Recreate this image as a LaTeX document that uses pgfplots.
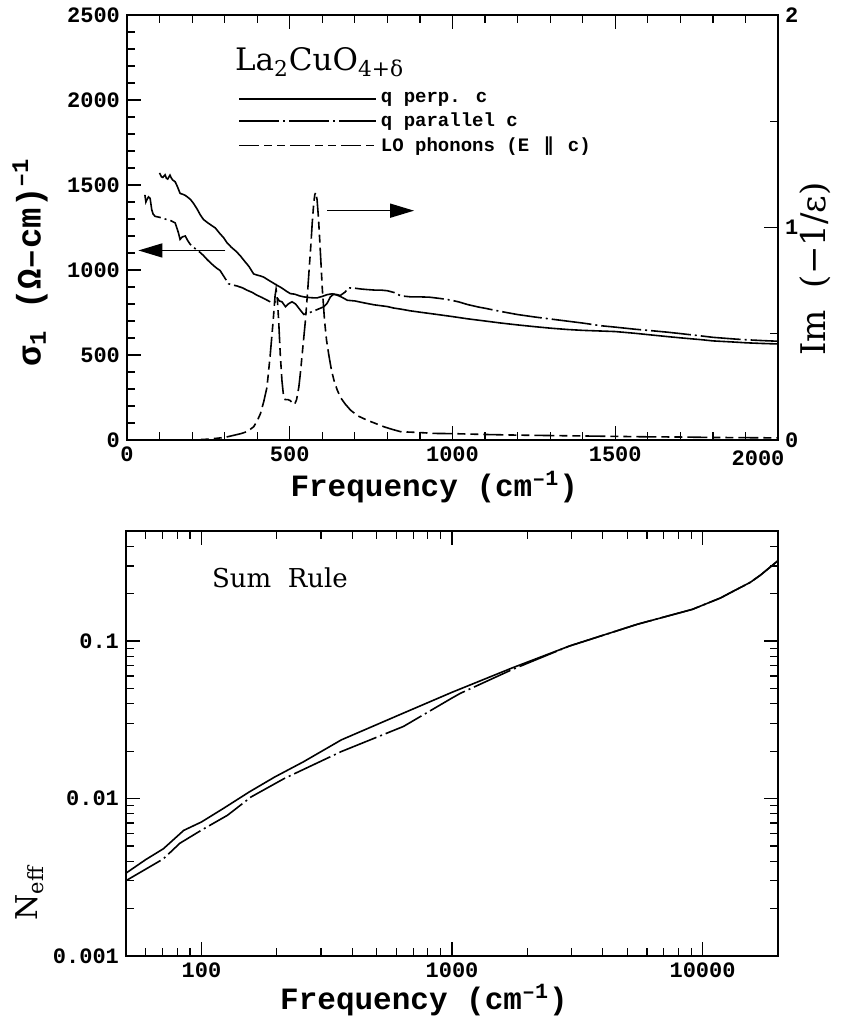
\documentclass[border=0pt]{standalone}
\usepackage{pgfplots}
\pgfplotsset{compat=1.18}
\usepackage{pgfplotstable}
\usepackage{fontspec}
\setmainfont{DejaVu Serif}
\newfontfamily\monof{Liberation Mono}
\newfontfamily\dvs{DejaVu Sans}
\usetikzlibrary{arrows.meta}

\pgfplotstableread{
f s
100 1571
106 1548
110 1545
117 1560
121 1540
125 1535
132 1558
136 1542
140 1530
148 1519
155 1490
163 1451
172 1445
178 1440
184 1432
195 1415
204 1393
215 1360
225 1325
235 1297
250 1275
260 1262
271 1248
285 1215
297 1190
307 1161
320 1135
335 1110
348 1084
360 1055
375 1020
389 977
400 970
410 965
420 958
435 940
448 925
461 910
475 895
490 875
502 861
515 858
530 848
543 842
560 838
575 836
584 836
600 845
615 855
630 860
646 852
660 840
677 822
700 818
720 810
738 803
760 795
780 790
800 785
820 776
841 770
870 760
900 752
943 741
1000 726
1046 713
1100 700
1149 688
1200 677
1251 667
1300 658
1354 650
1400 645
1457 641
1500 638
1559 628
1600 620
1662 608
1700 601
1765 590
1800 583
1867 576
1900 572
1950 568
2000 565
}\perp

\pgfplotstableread{
f s
55 1442
58 1400
61 1413
66 1430
71 1422
76 1355
80 1330
86 1316
100 1310
110 1305
122 1297
135 1290
148 1277
158 1219
163 1180
170 1195
179 1200
186 1175
194 1152
210 1125
225 1103
235 1085
245 1064
255 1045
266 1026
276 1010
286 997
300 955
312 919
325 912
338 906
355 895
369 881
385 868
399 852
415 838
430 823
445 808
455 812
462 835
468 818
476 813
487 784
495 800
507 813
518 800
530 770
543 739
555 745
574 759
590 772
605 784
615 805
625 842
635 858
646 855
655 850
670 870
680 895
700 893
720 888
738 885
760 882
780 882
800 878
820 868
841 848
872 842
900 842
930 840
964 832
995 823
1020 812
1046 797
1080 782
1100 775
1128 764
1160 752
1200 738
1251 724
1300 712
1354 699
1400 688
1457 672
1500 664
1559 652
1600 645
1662 634
1700 626
1765 612
1800 604
1867 594
1900 590
1950 585
2000 581
}\para

\pgfplotstableread{
f im
150 0.0
200 0.0
250 0.004
300 0.012
350 0.03
370 0.04
389 0.062
400 0.09
410 0.124
420 0.18
430 0.248
440 0.40
449 0.56
455 0.68
458 0.71
462 0.66
466 0.56
471 0.40
476 0.28
480 0.22
486 0.19
495 0.19
502 0.185
510 0.17
515 0.168
521 0.19
528 0.25
533 0.32
538 0.40
548 0.56
555 0.70
559 0.79
565 0.92
569 1.02
574 1.12
577 1.155
580 1.165
584 1.13
588 1.05
592 0.944
596 0.83
600 0.712
607 0.56
613 0.47
620 0.40
628 0.33
636 0.28
646 0.235
656 0.20
670 0.17
687 0.14
710 0.113
738 0.093
760 0.08
790 0.062
815 0.05
841 0.039
900 0.035
944 0.031
1000 0.030
1100 0.026
1200 0.023
1300 0.021
1400 0.019
1500 0.017
1600 0.015
1700 0.014
1800 0.012
1900 0.011
2000 0.010
}\lo

\pgfplotstableread{
f n
50 0.00336
60 0.0041
70.5 0.0048
85 0.00628
100 0.0071
122 0.00863
155 0.0110
196 0.0137
255 0.0171
362 0.0236
640 0.0349
1000 0.0473
1740 0.0676
2940 0.093
5500 0.128
9100 0.159
11800 0.188
13000 0.204
15500 0.236
17000 0.262
20000 0.324
}\sumperp

\pgfplotstableread{
f n
50 0.00301
70.5 0.00414
82 0.0052
100 0.0063
127 0.00783
158 0.01025
214 0.0134
362 0.0199
640 0.0287
1000 0.0435
1080 0.0466
1740 0.066
2940 0.093
5500 0.128
9100 0.159
11800 0.188
13000 0.204
15500 0.236
17000 0.262
20000 0.324
}\sumpara

\begin{document}
\begin{tikzpicture}
\path[use as bounding box] (0,0) rectangle (421.5pt,-509pt);
\pgfplotsset{
  mystyle/.style={
    scale only axis, width=325.5pt, height=212.5pt,
    axis line style={line width=0.8pt},
    every tick/.style={black, line width=0.6pt},
    major tick length=7pt, minor tick length=4pt,
    tick align=inside,
    /pgf/number format/1000 sep={},
    /pgf/number format/assume math mode=true,
    tick label style={font=\monof\bfseries\fontsize{11}{13}\selectfont},
  },
  dd/.style={black, line width=0.8pt, dash pattern=on 20pt off 2pt on 1pt off 2pt},
  ds/.style={black, line width=0.8pt, dash pattern=on 10pt off 2.5pt on 4pt off 2.5pt on 4pt off 2.5pt},
  sl/.style={black, line width=0.8pt},
}
% ---------- top panel, left axis ----------
\begin{axis}[mystyle, at={(63.5pt,-220pt)}, anchor=south west,
  xmin=0, xmax=2000, ymin=0, ymax=2500,
  xtick={0,500,...,2000}, minor x tick num=4,
  xticklabels={0,500,1000,1500,{}},
  ytick={0,500,...,2500}, minor y tick num=4,
  ytick pos=left,
  xlabel={\monof\bfseries\fontsize{15.5}{18}\selectfont Frequency (cm\textsuperscript{–1})},
  xlabel style={at={(rel axis cs:0.472,-0.111)}, anchor=center},
  legend style={at={(rel axis cs:0.1705,0.828)}, anchor=north west, draw=none, fill=none,
    inner sep=0pt, font=\monof\bfseries\fontsize{9.5}{10}\selectfont,
    row sep=-0.5pt,
    /tikz/every even column/.append style={column sep=9pt}},
  legend cell align=left,
  legend image code/.code={\draw[#1] (0pt,0pt) -- (68.5pt,0pt);},
]
\addplot[sl] table[x=f,y=s] {\perp};
\addlegendentry{q perp. c}
\addplot[dd] table[x=f,y=s] {\para};
\addlegendentry{q parallel c}
\addlegendimage{ds}
\addlegendentry{LO phonons (E \,{\dvs\bfseries ∥}\, c)}
\draw[line width=0.8pt, -{Triangle[length=12pt,width=7pt]}] (axis cs:302,1115) -- (axis cs:35,1115);
\draw[line width=0.8pt, -{Triangle[length=12pt,width=7pt]}] (axis cs:615,1349) -- (axis cs:882,1349);
\end{axis}
% ---------- top panel, right axis ----------
\begin{axis}[mystyle, at={(63.5pt,-220pt)}, anchor=south west,
  xmin=0, xmax=2000, ymin=0, ymax=2,
  axis x line=none, axis y line*=right,
  ytick={0,1,2}, minor ytick={0.5,1.5},
]
\addplot[ds] table[x=f,y=im] {\lo};
\end{axis}
% ---------- bottom panel ----------
\begin{axis}[mystyle, at={(63pt,-478pt)}, anchor=south west, width=326pt,
  xmode=log, ymode=log,
  xmin=50, xmax=20000, ymin=0.001, ymax=0.5,
  xtick={100,1000,10000}, xticklabels={100,1000,10000},
  minor xtick={60,70,80,90,200,300,400,500,600,700,800,900,2000,3000,4000,5000,6000,7000,8000,9000,20000},
  ytick={0.001,0.01,0.1}, yticklabels={0.001,0.01,0.1},
  minor ytick={0.002,0.003,0.004,0.005,0.006,0.007,0.008,0.009,0.02,0.03,0.04,0.05,0.06,0.07,0.08,0.09,0.2,0.3,0.4,0.5},
  xlabel={\monof\bfseries\fontsize{15.5}{18}\selectfont Frequency (cm\textsuperscript{–1})},
  xlabel style={at={(rel axis cs:0.457,-0.1035)}, anchor=center},
]
\addplot[dd] table[x=f,y=n] {\sumpara};
\addplot[sl] table[x=f,y=n] {\sumperp};
\end{axis}
% ---------- texts placed on the page (1 px of the reference = 0.5pt) ----------
\node[anchor=north, inner sep=0pt, font=\monof\bfseries\fontsize{11}{13}\selectfont]
  at (379pt,-225pt) {2000};
\node[rotate=90, anchor=center, font=\monof\bfseries\fontsize{17}{20}\selectfont]
  at (15pt,-131pt) {σ\textsubscript{1} (Ω–cm)\textsuperscript{–1}};
\node[rotate=90, anchor=center, font=\fontsize{17}{20}\selectfont]
  at (407.5pt,-134.5pt) {Im~~(−1/ε)};
\node[rotate=90, anchor=center, font=\fontsize{15}{18}\selectfont]
  at (15pt,-446.5pt) {N\textsubscript{eff}};
\node[anchor=base west, font=\fontsize{15.5}{18}\selectfont]
  at (114pt,-35pt) {La\textsubscript{2}CuO\textsubscript{4+δ}};
\node[anchor=west, font=\fontsize{13}{15}\selectfont]
  at (102.5pt,-289pt) {Sum~~Rule};
\end{tikzpicture}
\end{document}
